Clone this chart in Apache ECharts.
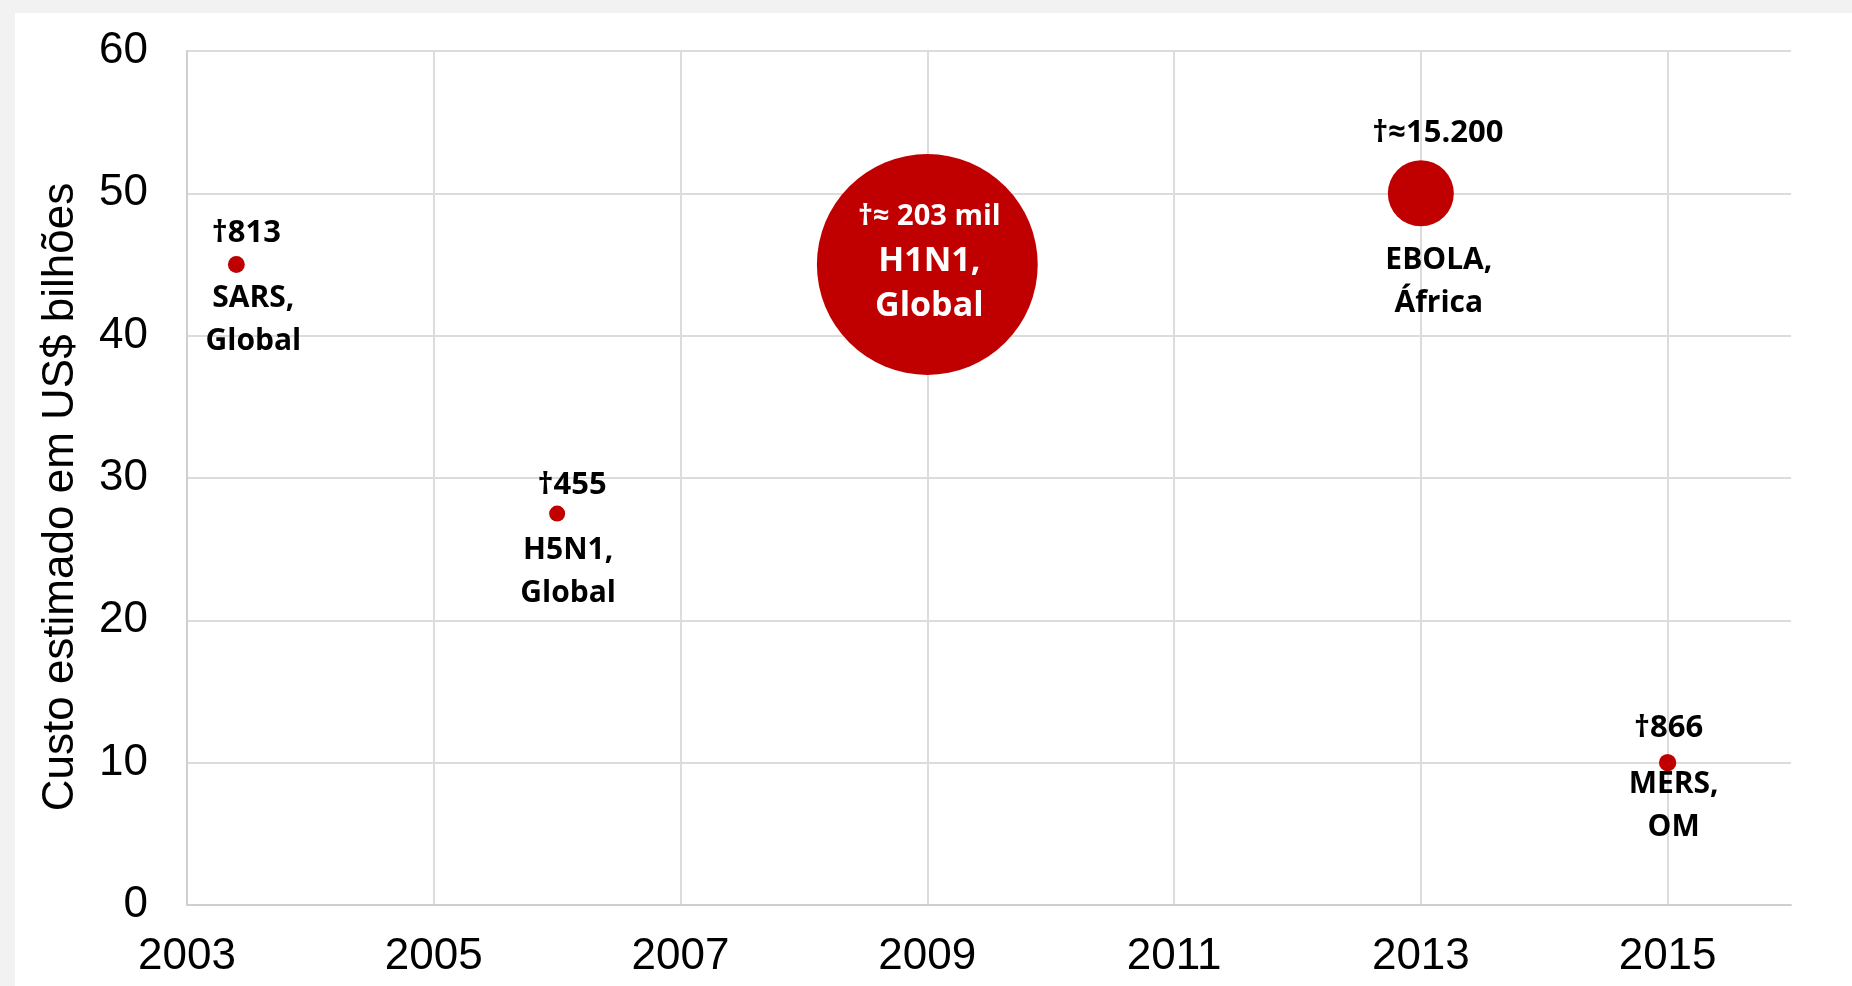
<!DOCTYPE html>
<html>
<head>
<meta charset="utf-8">
<style>
    html, body { margin: 0; padding: 0; background: #f2f2f2; }
    #panel { position: absolute; left: 15px; top: 13px; right: 0; bottom: 0; background: #fff; }
    #main { position: absolute; left: 0; top: 0; width: 1852px; height: 986px; }
</style>
<script src="https://cdn.jsdelivr.net/npm/echarts@6/dist/echarts.min.js"></script>
</head>
<body>
<div id="panel"></div>
<div id="main"></div>
<script>
// dados
const years = [2003.4, 2006, 2009, 2013, 2015];
const costs = [45, 27.5, 45, 50, 10];
const deaths = [813, 455, 203000, 15200, 866];
const deathLabels = ['†813', '†455', '†≈ 203 mil', '†≈15.200', '†866'];
const diseases = ['SARS,\nGlobal', 'H5N1,\nGlobal', 'H1N1,\nGlobal', 'EBOLA,\nÁfrica', 'MERS,\nOM'];
const yearTicks = [2003, 2005, 2007, 2009, 2011, 2013, 2015];

// deslocamento dos rótulos em relação ao centro da bolha
const nameOffsets = [[17, 55], [11, 58], [2, -3], [18, 89], [6, 43]];
const deathOffsets = [[10, -31], [15, -28], null, [17, -60], [1, -34]];

const RED = '#c00000';
const LABEL_FONT = '"Open Sans", "Noto Sans", sans-serif';
const AXIS_FONT = '"Liberation Sans", Arial, sans-serif';

function bubbleSize(d) {
    return Math.max(16, 0.7426 * Math.pow(d, 0.466));
}

const bubbleData = years.map((x, i) => {
    const inside = i === 2;
    return {
        value: [x, costs[i], deaths[i]],
        label: inside ? {
            offset: nameOffsets[i],
            formatter: '{a|' + deathLabels[i] + '}\n{b|H1N1,}\n{b|Global}',
            rich: {
                a: { color: '#fff', fontSize: 29, fontWeight: 'bold', fontFamily: LABEL_FONT, lineHeight: 45 },
                b: { color: '#fff', fontSize: 34, fontWeight: 'bold', fontFamily: LABEL_FONT, lineHeight: 45 }
            }
        } : {
            offset: nameOffsets[i],
            formatter: diseases[i]
        }
    };
});

const deathData = years.map((x, i) => ({
    value: [x, costs[i], deaths[i]],
    label: deathOffsets[i] ? { offset: deathOffsets[i], formatter: deathLabels[i] } : { show: false }
}));

let myChart = echarts.init(document.getElementById('main'));
myChart.setOption({
    animation: false,
    grid: { left: 187, right: 61, top: 51, bottom: 81, containLabel: false },
    xAxis: {
        type: 'value',
        min: 2003,
        max: 2016,
        interval: 2,
        axisLine: { show: true, lineStyle: { color: '#cfcfcf', width: 2 } },
        axisTick: { show: false },
        splitLine: { show: true, showMaxLine: false, lineStyle: { color: '#dcdcdc', width: 2 } },
        axisLabel: {
            margin: 30,
            color: '#000',
            fontSize: 44,
            fontFamily: AXIS_FONT,
            showMaxLabel: false,
            formatter: v => yearTicks.indexOf(v) >= 0 ? String(v) : ''
        }
    },
    yAxis: {
        type: 'value',
        min: 0,
        max: 60,
        interval: 10,
        name: 'Custo estimado em US$ bilhões',
        nameLocation: 'middle',
        nameGap: 104,
        nameTextStyle: { color: '#000', fontSize: 44, fontFamily: AXIS_FONT, padding: [0, 38, 0, 0] },
        axisLine: { show: true, lineStyle: { color: '#cfcfcf', width: 2 } },
        axisTick: { show: false },
        splitLine: { show: true, lineStyle: { color: '#dcdcdc', width: 2 } },
        axisLabel: { margin: 39, color: '#000', fontSize: 44, fontFamily: AXIS_FONT }
    },
    series: [
        {
            name: 'custo',
            type: 'scatter',
            data: bubbleData,
            symbol: 'circle',
            symbolSize: v => bubbleSize(v[2]),
            itemStyle: { color: RED, opacity: 1 },
            label: {
                show: true,
                position: 'inside',
                color: '#000',
                fontSize: 30,
                fontWeight: 'bold',
                fontFamily: LABEL_FONT,
                lineHeight: 43,
                align: 'center'
            },
            emphasis: { disabled: true },
            z: 3
        },
        {
            name: 'mortes',
            type: 'scatter',
            data: deathData,
            symbol: 'circle',
            symbolSize: v => bubbleSize(v[2]),
            itemStyle: { color: '#ffffff', opacity: 1 },
            label: {
                show: true,
                position: 'inside',
                color: '#000',
                opacity: 1,
                textBorderWidth: 0,
                fontSize: 31,
                fontWeight: 'bold',
                fontFamily: LABEL_FONT,
                align: 'center'
            },
            emphasis: { disabled: true },
            silent: true,
            z: 2
        }
    ]
});
</script>
</body>
</html>
